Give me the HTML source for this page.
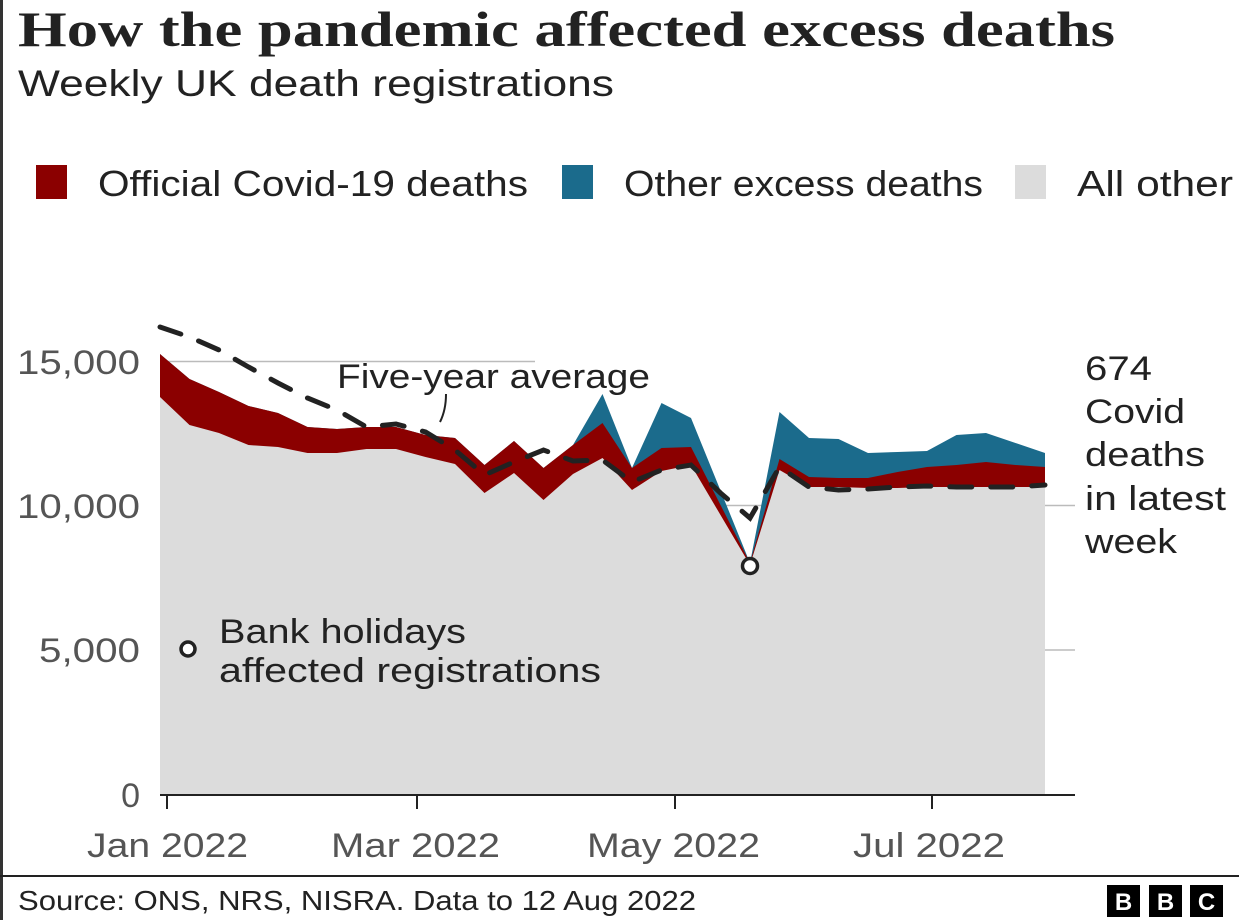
<!DOCTYPE html>
<html><head><meta charset="utf-8"><style>
html,body{margin:0;padding:0;background:#fff;}
body{width:1239px;height:920px;overflow:hidden;position:relative;font-family:"Liberation Sans",sans-serif;}
</style></head><body>
<svg width="1239" height="920" viewBox="0 0 1239 920" xmlns="http://www.w3.org/2000/svg" style="position:absolute;left:0;top:0">
<rect x="0" y="0" width="3" height="920" fill="#333"/>
<text x="18" y="46" font-family="Liberation Serif,serif" font-weight="bold" font-size="50" fill="#222" textLength="1097" lengthAdjust="spacingAndGlyphs">How the pandemic affected excess deaths</text>
<text x="18" y="96" font-size="37" fill="#222" textLength="596" lengthAdjust="spacingAndGlyphs">Weekly UK death registrations</text>
<rect x="36" y="165" width="31" height="34" fill="#8b0000"/>
<text x="98" y="196" font-size="36" fill="#222" textLength="430" lengthAdjust="spacingAndGlyphs">Official Covid-19 deaths</text>
<rect x="562" y="165" width="31" height="34" fill="#1b6b8c"/>
<text x="624" y="196" font-size="36" fill="#222" textLength="359" lengthAdjust="spacingAndGlyphs">Other excess deaths</text>
<rect x="1015" y="165" width="31" height="34" fill="#dcdcdc"/>
<text x="1077" y="196" font-size="36" fill="#222" textLength="156" lengthAdjust="spacingAndGlyphs">All other</text>
<line x1="160" y1="361.5" x2="535" y2="361.5" stroke="#bbb" stroke-width="1.5"/>
<line x1="160" y1="505.5" x2="1075" y2="505.5" stroke="#bbb" stroke-width="1.5"/>
<line x1="160" y1="650" x2="1075" y2="650" stroke="#bbb" stroke-width="1.5"/>
<polygon fill="#1b6b8c" points="160,354 189.5,379 219,392 248.5,406 278,413 307.5,427 337,429 366.5,427 396,427 425.5,435 455,438 484.5,465 514,441 543.5,468 573,445 602.5,394 632,468 661.5,403 691,418 750,563 779.5,412 809,438 838.5,439 868,453 897.5,452 927,451 956.5,435 986,433 1015.5,443 1045,453 1045,795 160,795"/>
<polygon fill="#8b0000" points="160,354 189.5,379 219,392 248.5,406 278,413 307.5,427 337,429 366.5,427 396,427 425.5,435 455,438 484.5,465 514,441 543.5,468 573,445 602.5,423 632,468 661.5,448 691,447 750,563 779.5,459 809,477 838.5,478 868,478 897.5,472 927,467 956.5,465 986,462 1015.5,465 1045,467 1045,795 160,795"/>
<polygon fill="#dcdcdc" points="160,397 189.5,425 219,433 248.5,445 278,447 307.5,453 337,453 366.5,449 396,449 425.5,457 455,464 484.5,493 514,473 543.5,500 573,474 602.5,458 632,490 661.5,471 691,465 750,565 779.5,470 809,487 838.5,487 868,488 897.5,488 927,487 956.5,487 986,487 1015.5,487 1045,487 1045,795 160,795"/>
<polyline fill="none" stroke="#222" stroke-width="5" stroke-dasharray="22,19" stroke-linecap="round" points="160,327 189.5,337 219,350 248.5,367 278,383 307.5,398 337,410 366.5,427 396,424 425.5,432 455,450 484.5,475 514,462 543.5,450 573,461 602.5,460 632,482 661.5,470 691,465 720.5,493 750,518 779.5,467 809,487 838.5,490 868,489 897.5,487 927,486 956.5,487 986,487 1015.5,487 1045,485"/>
<path d="M446,394 Q446,410 440,422" fill="none" stroke="#222" stroke-width="2"/>
<text x="337" y="388" font-size="34" fill="#222" textLength="313" lengthAdjust="spacingAndGlyphs">Five-year average</text>
<circle cx="750" cy="566" r="7.5" fill="#fff" stroke="#222" stroke-width="3.5"/>
<circle cx="188" cy="649" r="7" fill="#fff" stroke="#222" stroke-width="3.5"/>
<text x="219" y="643" font-size="34" fill="#222" textLength="247" lengthAdjust="spacingAndGlyphs">Bank holidays</text>
<text x="219" y="682" font-size="34" fill="#222" textLength="382" lengthAdjust="spacingAndGlyphs">affected registrations</text>
<g font-size="34" fill="#222">
<text x="1085" y="380" textLength="67" lengthAdjust="spacingAndGlyphs">674</text>
<text x="1085" y="423" textLength="100" lengthAdjust="spacingAndGlyphs">Covid</text>
<text x="1085" y="466" textLength="120" lengthAdjust="spacingAndGlyphs">deaths</text>
<text x="1085" y="510" textLength="141" lengthAdjust="spacingAndGlyphs">in latest</text>
<text x="1085" y="553" textLength="92" lengthAdjust="spacingAndGlyphs">week</text>
</g>
<g font-size="34" fill="#555" text-anchor="end">
<text x="140" y="374" textLength="123" lengthAdjust="spacingAndGlyphs">15,000</text>
<text x="140" y="518" textLength="123" lengthAdjust="spacingAndGlyphs">10,000</text>
<text x="140" y="662" textLength="101" lengthAdjust="spacingAndGlyphs">5,000</text>
<text x="140" y="807">0</text>
</g>
<line x1="160" y1="795" x2="1075" y2="795" stroke="#222" stroke-width="2"/>
<g stroke="#222" stroke-width="2">
<line x1="167" y1="795" x2="167" y2="809"/>
<line x1="417" y1="795" x2="417" y2="809"/>
<line x1="675" y1="795" x2="675" y2="809"/>
<line x1="932" y1="795" x2="932" y2="809"/>
</g>
<g font-size="34" fill="#555">
<text x="87" y="857" textLength="161" lengthAdjust="spacingAndGlyphs">Jan 2022</text>
<text x="331" y="857" textLength="169" lengthAdjust="spacingAndGlyphs">Mar 2022</text>
<text x="587" y="857" textLength="173" lengthAdjust="spacingAndGlyphs">May 2022</text>
<text x="853" y="857" textLength="152" lengthAdjust="spacingAndGlyphs">Jul 2022</text>
</g>
<line x1="0" y1="876" x2="1239" y2="876" stroke="#222" stroke-width="2"/>
<text x="18" y="910" font-size="28" fill="#222" textLength="678" lengthAdjust="spacingAndGlyphs">Source: ONS, NRS, NISRA. Data to 12 Aug 2022</text>
<rect x="1107" y="885" width="33" height="32" fill="#000"/>
<rect x="1149" y="885" width="33" height="32" fill="#000"/>
<rect x="1190" y="885" width="33" height="32" fill="#000"/>
<g font-size="24" font-weight="bold" fill="#fff" text-anchor="middle">
<text x="1123.5" y="910">B</text><text x="1165.5" y="910">B</text><text x="1206.5" y="910">C</text>
</g>
</svg>
</body></html>
